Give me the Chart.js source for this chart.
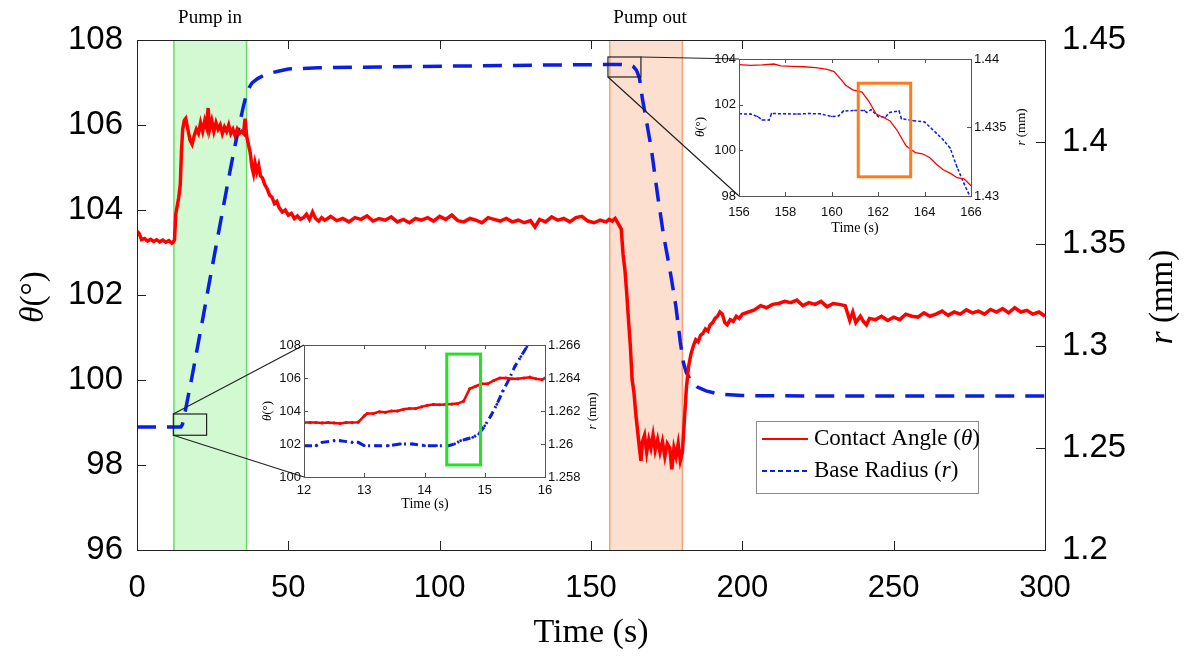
<!DOCTYPE html>
<html>
<head>
<meta charset="utf-8">
<script src="https://cdn.jsdelivr.net/npm/chart.js@4.4.1/dist/chart.umd.min.js"></script>
<style>
  body { margin: 0; background: #fff; }
  #wrap { position: relative; width: 1195px; height: 658px; overflow: hidden; }
  canvas { position: absolute; }
  #main { left: 0; top: 0; }
  #insetA { left: 250px; top: 330px; }
  #insetB { left: 690px; top: 40px; }
</style>
</head>
<body>
<div id="wrap">
  <canvas id="main" width="1195" height="658"></canvas>
  <canvas id="insetA" width="370" height="190"></canvas>
  <canvas id="insetB" width="340" height="200"></canvas>
</div>
<script>
// ---- main plot data (time in s, contact angle in deg, base radius in mm)
const angleTime = [0, 0.7, 1.5, 2.5, 3.5, 4.5, 5.5, 6.5, 7.5, 8.5, 9.5, 10.5, 11.5, 12, 12.4, 12.8, 13.3, 13.8, 14.3, 14.7, 15.1, 15.6, 16.1,
  16.8, 17.5, 18.2, 18.9, 19.6, 20.3, 21, 21.7, 22.4, 23, 23.5, 24, 24.7, 25.4, 26.1, 26.8, 27.5, 28.2, 28.9, 29.6, 30.3, 31, 31.7,
  32.4, 33.1, 33.8, 34.5, 35.2, 35.7, 36.2, 36.8, 37.4, 38, 38.5, 39, 39.6, 40.2, 40.8, 41.5, 42.2, 43, 43.8, 44.6, 45.4, 46.2, 47,
  48, 49, 50, 51, 52, 53, 54, 55, 56, 57, 58, 59, 60, 61, 62, 63,
  64, 66, 68, 70, 72, 74, 76, 78, 80, 82, 84, 86, 88, 90, 92, 94, 96, 98, 100, 102, 104, 106, 108, 110, 112, 114, 116, 118, 120,
  122, 124, 126, 128, 130, 131.5, 133, 135, 137, 139, 141, 143, 145, 147, 149, 151, 153, 155,
  156, 157, 158, 159, 160, 160.6, 161.2, 161.8, 162.4, 163, 163.6, 164.2, 164.8, 165.4, 166, 166.5, 167, 167.7, 168.4, 169.1, 169.8,
  170.5, 171.2, 172, 172.8, 173.6, 174.4, 175.2, 176, 176.7, 177.4, 178.1, 178.8, 179.5, 180.2, 180.8, 181.5, 182.2, 183, 183.8,
  184.6, 185.4, 186.2, 187, 187.8, 188.6, 189.4, 190.2, 191, 191.8, 192.6, 193.4, 194.2, 195, 196, 197, 198, 199, 200,
  202, 204, 206, 208, 210, 212, 214, 216, 218, 220, 222, 224, 226, 228, 230, 232, 234, 235.5, 236.5, 237.5, 239, 240, 241, 242,
  244, 246, 248, 250, 252, 254, 256, 258, 260, 262, 264, 266, 268, 270, 272, 274, 276, 278, 280, 282, 284, 286, 288, 290,
  292, 294, 296, 298, 300];
const angleValue = [103.5, 103.45, 103.3, 103.33, 103.27, 103.31, 103.26, 103.3, 103.25, 103.29, 103.24, 103.28, 103.22, 103.25, 103.3, 103.9, 104.1, 104.3, 104.6, 105.4, 105.9, 106.1, 106.15,
  105.9, 105.65, 105.55, 105.75, 105.9, 105.8, 106.05, 105.85, 106.1, 105.95, 106.4, 105.9, 106.1, 105.85, 106.05, 105.9, 106.0, 105.8, 105.95, 105.85, 106.0, 105.8, 105.9,
  105.75, 105.9, 105.8, 105.85, 105.8, 106.15, 105.75, 105.55, 105.35, 105.0, 104.85, 105.1, 104.9, 105.05, 104.8, 104.75, 104.6, 104.5, 104.35, 104.3, 104.15, 104.2, 104.05,
  103.95, 104.0, 103.88, 103.92, 103.8, 103.86, 103.78, 103.82, 103.9, 103.78, 103.95, 103.8, 103.74, 103.82, 103.76, 103.8,
  103.85, 103.75, 103.8, 103.72, 103.82, 103.78, 103.86, 103.74, 103.8, 103.76, 103.84, 103.72, 103.78, 103.7, 103.8, 103.76, 103.82, 103.74, 103.85, 103.78, 103.88, 103.75, 103.72, 103.8, 103.76, 103.7, 103.82, 103.78, 103.74,
  103.8, 103.72, 103.76, 103.7, 103.75, 103.6, 103.78, 103.72, 103.84, 103.76, 103.8, 103.72, 103.82, 103.85, 103.74, 103.7, 103.76, 103.72,
  103.78, 103.74, 103.8, 103.68, 103.55, 102.95, 102.6, 102.05, 101.4, 100.8, 100.0, 99.7, 99.2, 98.8, 98.4, 98.1, 98.55, 98.7, 98.3, 98.6, 98.4,
  98.7, 98.35, 98.6, 98.3, 98.55, 98.2, 98.5, 98.4, 97.9, 98.4, 98.2, 98.5, 98.1, 98.3, 99.0, 99.8, 100.3, 100.6, 100.8,
  100.95, 100.9, 101.05, 101.1, 101.2, 101.15, 101.3, 101.35, 101.45, 101.5, 101.6, 101.55, 101.35, 101.3, 101.42, 101.38, 101.5, 101.45, 101.55,
  101.6, 101.65, 101.75, 101.7, 101.78, 101.8, 101.85, 101.82, 101.88, 101.75, 101.82, 101.78, 101.85, 101.72, 101.8, 101.78, 101.75, 101.4, 101.6, 101.35, 101.5, 101.38, 101.3, 101.45,
  101.42, 101.5, 101.4, 101.48, 101.42, 101.55, 101.5, 101.48, 101.58, 101.5, 101.55, 101.62, 101.52, 101.6, 101.55, 101.65, 101.58, 101.62, 101.55, 101.66, 101.6, 101.68, 101.58, 101.7,
  101.6, 101.64, 101.55, 101.6, 101.5];

const radiusTime = [0, 12, 14.5, 15, 15.5, 16, 17, 18, 20, 22, 24, 26, 28, 30, 32, 34, 35, 36, 37, 38, 40, 42, 44, 47, 50,
  60, 80, 110, 140, 160, 163, 164, 165, 166, 167, 168, 170, 172, 174, 176, 178, 179.5, 180.5, 181.5, 183, 185, 188, 192,
  200, 220, 250, 280, 300];
const radiusValue = [1.2603, 1.2603, 1.2603, 1.2615, 1.265, 1.2685, 1.276, 1.2835, 1.2995, 1.3155, 1.332, 1.348, 1.364, 1.38, 1.3955, 1.4095, 1.4165, 1.4225, 1.4265, 1.429, 1.4312, 1.4328, 1.4338, 1.4348, 1.4358,
  1.4364, 1.4368, 1.4373, 1.4378, 1.438, 1.4378, 1.437, 1.4352, 1.4315, 1.421, 1.413, 1.396, 1.374, 1.354, 1.338, 1.32, 1.302, 1.292, 1.287, 1.283, 1.28, 1.278, 1.2765,
  1.2757, 1.2755, 1.2755, 1.2755, 1.2755];

const timeTicks = [0, 50, 100, 150, 200, 250, 300];
const angleTicks = [96, 98, 100, 102, 104, 106, 108];
const radiusTicks = [1.2, 1.25, 1.3, 1.35, 1.4, 1.45];
const pumpIn = [12.2, 36.2];
const pumpOut = [156.2, 180.2];

// ---- inset A: 12-16 s
const insetATime = [12.0, 12.1, 12.2, 12.3, 12.4, 12.5, 12.6, 12.7, 12.8, 12.9, 13.0, 13.05, 13.15, 13.25, 13.35, 13.45, 13.55, 13.65, 13.75, 13.85, 13.95,
  14.05, 14.15, 14.25, 14.35, 14.45, 14.55, 14.65, 14.75, 14.85, 14.95, 15.05, 15.15, 15.25, 15.35, 15.45, 15.55, 15.65, 15.75, 15.85, 15.95, 16.0];
const insetAAngle = [103.3, 103.3, 103.3, 103.28, 103.3, 103.28, 103.25, 103.3, 103.3, 103.32, 103.7, 103.85, 103.85, 103.95, 103.92, 104.0, 104.0, 104.1, 104.15, 104.15, 104.25,
  104.35, 104.4, 104.38, 104.4, 104.42, 104.45, 104.6, 105.35, 105.5, 105.65, 105.65, 105.85, 106.0, 106.0, 105.95, 105.95, 106.0, 106.05, 105.95, 105.9, 106.0];
const insetARTime = [12.0, 12.2, 12.3, 12.5, 12.6, 12.8, 12.9, 13.0, 13.2, 13.4, 13.6, 13.8, 14.0, 14.2, 14.4, 14.5, 14.6, 14.7, 14.8, 14.9,
  15.0, 15.1, 15.2, 15.3, 15.4, 15.5, 15.6, 15.7];
const insetARadius = [1.2599, 1.2599, 1.2601, 1.2602, 1.2602, 1.2601, 1.2601, 1.2599, 1.2599, 1.2599, 1.26, 1.26, 1.2599, 1.2599, 1.2599, 1.26, 1.2602, 1.2603, 1.2604, 1.2606,
  1.2611, 1.2617, 1.2624, 1.2632, 1.2639, 1.2647, 1.2653, 1.2659];
const insetATimeTicks = [12, 13, 14, 15, 16];
const insetAAngleTicks = [100, 102, 104, 106, 108];
const insetARadiusTicks = [1.258, 1.26, 1.262, 1.264, 1.266];
const insetAHighlight = { t: [14.37, 14.93], angle: [100.73, 107.45] };

// ---- inset B: 156-166 s
const insetBTime = [156, 156.5, 157, 157.5, 157.8, 158.3, 158.8, 159.3, 159.8, 160.1, 160.4, 160.6, 160.9, 161.3, 161.6, 161.9, 162.2, 162.5, 162.8,
  163.2, 163.4, 163.6, 163.9, 164.2, 164.5, 164.8, 165.1, 165.4, 165.7, 166];
const insetBAngle = [103.75, 103.72, 103.74, 103.78, 103.7, 103.68, 103.66, 103.62, 103.55, 103.45, 103.1, 102.85, 102.65, 102.55, 102.15, 101.6, 101.45, 101.3, 100.9,
  100.2, 100.05, 99.9, 99.85, 99.7, 99.4, 99.15, 99.0, 98.8, 98.75, 98.45];
const insetBRTime = [156, 156.5, 156.8, 157.0, 157.3, 157.4, 158, 158.5, 159, 159.5, 160, 160.3, 160.5, 161, 161.4, 161.5, 161.7, 162.0, 162.3, 162.5,
  162.9, 163.0, 163.5, 164, 164.5, 164.8, 165.1, 165.4, 165.7, 166];
const insetBRadius = [1.436, 1.43598, 1.4358, 1.43555, 1.43555, 1.43602, 1.436, 1.43598, 1.43602, 1.436, 1.4358, 1.43585, 1.4362, 1.43625, 1.43625, 1.4361, 1.4363, 1.4358, 1.43575, 1.4361,
  1.4362, 1.43565, 1.4355, 1.4354, 1.4346, 1.4341, 1.4335, 1.4321, 1.4309, 1.4298];
const insetBTimeTicks = [156, 158, 160, 162, 164, 166];
const insetBAngleTicks = [98, 100, 102, 104];
const insetBRadiusTicks = [1.43, 1.435, 1.44];
const insetBHighlight = { t: [161.14, 163.4], angle: [98.84, 102.94] };

// source boxes drawn on the main plot (time, angle)
const zoomBoxA = { t: [12, 23], angle: [98.7, 99.2] };
const zoomBoxB = { t: [155.6, 166.5], angle: [107.13, 107.6] };

const SANS = '"Liberation Sans", Arial, sans-serif';
const SERIF = '"Liberation Serif", "Times New Roman", serif';
const RED = '#ff0000';
const BLUE = '#0b1fe0';

const pts = (ts, vs) => ts.map((t, i) => ({ x: t, y: vs[i] }));
const fixedTicks = (list) => (scale) => { scale.ticks = list.map(v => ({ value: v })); };
const trimNum = (v) => String(parseFloat(v.toFixed(3)));

function drawRich(ctx, parts, x, y, size) {
  const widths = parts.map(p => {
    ctx.font = (p[1] ? 'italic ' : '') + size + 'px ' + SERIF;
    return ctx.measureText(p[0]).width;
  });
  let cx = x - widths.reduce((a, b) => a + b, 0) / 2;
  parts.forEach((p, i) => {
    ctx.font = (p[1] ? 'italic ' : '') + size + 'px ' + SERIF;
    ctx.fillText(p[0], cx, y);
    cx += widths[i];
  });
}

// box around the plot and ticks pointing inwards (matlab style)
const frame = {
  id: 'frame',
  beforeDraw(chart, args, opts) {
    if (!opts.fill) return;
    const a = chart.chartArea;
    chart.ctx.save();
    chart.ctx.fillStyle = opts.fill;
    chart.ctx.fillRect(a.left, a.top, a.right - a.left, a.bottom - a.top);
    chart.ctx.restore();
  },
  afterDraw(chart, args, opts) {
    const { ctx, chartArea: a, scales } = chart;
    const len = opts.tickLength || 8;
    ctx.save();
    ctx.strokeStyle = opts.color || '#222';
    ctx.lineWidth = 1;
    ctx.beginPath();
    scales.x.ticks.forEach(t => {
      const px = Math.round(scales.x.getPixelForValue(t.value)) + 0.5;
      ctx.moveTo(px, a.bottom); ctx.lineTo(px, a.bottom - len);
      ctx.moveTo(px, a.top); ctx.lineTo(px, a.top + len);
    });
    scales.y.ticks.forEach(t => {
      const py = Math.round(scales.y.getPixelForValue(t.value)) + 0.5;
      ctx.moveTo(a.left, py); ctx.lineTo(a.left + len, py);
    });
    scales.y1.ticks.forEach(t => {
      const py = Math.round(scales.y1.getPixelForValue(t.value)) + 0.5;
      ctx.moveTo(a.right, py); ctx.lineTo(a.right - len, py);
    });
    ctx.stroke();
    ctx.strokeRect(Math.round(a.left) + 0.5, Math.round(a.top) + 0.5, Math.round(a.right - a.left), Math.round(a.bottom - a.top));
    ctx.restore();
  }
};

// axis titles and free labels with mixed italic parts
const labels = {
  id: 'labels',
  afterDraw(chart, args, opts) {
    const ctx = chart.ctx;
    ctx.save();
    ctx.fillStyle = '#000';
    ctx.textBaseline = 'middle';
    (opts.items || []).forEach(it => {
      ctx.save();
      ctx.translate(it.x, it.y);
      if (it.rotate) ctx.rotate(-Math.PI / 2);
      drawRich(ctx, it.parts, 0, 0, it.size);
      ctx.restore();
    });
    ctx.restore();
  }
};

// highlight rectangle inside an inset
const highlight = {
  id: 'highlight',
  afterDatasetsDraw(chart, args, opts) {
    if (!opts.box) return;
    const { ctx, scales: { x, y } } = chart;
    const x0 = x.getPixelForValue(opts.box.t[0]), x1 = x.getPixelForValue(opts.box.t[1]);
    const y0 = y.getPixelForValue(opts.box.angle[1]), y1 = y.getPixelForValue(opts.box.angle[0]);
    ctx.save();
    ctx.strokeStyle = opts.color;
    ctx.lineWidth = 3;
    ctx.strokeRect(x0, y0, x1 - x0, y1 - y0);
    ctx.restore();
  }
};

function insetConfig(o) {
  return {
    type: 'line',
    data: { datasets: o.datasets },
    options: {
      responsive: false, animation: false, devicePixelRatio: 1,
      layout: { padding: { top: o.top, left: 0, right: 0, bottom: 0 } },
      elements: { line: { tension: 0 } },
      plugins: {
        legend: { display: false }, tooltip: { enabled: false },
        frame: { fill: '#fff', color: '#555', tickLength: 4 },
        labels: { items: o.titles },
        highlight: { box: o.box, color: o.boxColor }
      },
      scales: {
        x: {
          type: 'linear', min: o.xr[0], max: o.xr[1], afterBuildTicks: fixedTicks(o.xt),
          afterFit(s) { s.height = o.xh; },
          grid: { display: false, drawTicks: false }, border: { display: false },
          ticks: { padding: o.xpad, color: '#111', font: { family: SANS, size: 13 }, maxRotation: 0, autoSkip: false }
        },
        y: {
          position: 'left', min: o.yr[0], max: o.yr[1], afterBuildTicks: fixedTicks(o.yt),
          afterFit(s) { s.width = o.lw; },
          grid: { display: false, drawTicks: false }, border: { display: false },
          ticks: { padding: 3, color: '#111', font: { family: SANS, size: 13 }, autoSkip: false }
        },
        y1: {
          position: 'right', min: o.rr[0], max: o.rr[1], afterBuildTicks: fixedTicks(o.rt),
          afterFit(s) { s.width = o.rw; },
          grid: { display: false, drawTicks: false }, border: { display: false },
          ticks: { padding: 3, color: '#111', font: { family: SANS, size: 13 }, autoSkip: false, callback: trimNum }
        }
      }
    },
    plugins: [frame, labels, highlight]
  };
}

const insetAPos = { left: 250, top: 330 };
const insetBPos = { left: 690, top: 40 };

const insetA = new Chart(document.getElementById('insetA'), insetConfig({
  top: 15, xh: 43, lw: 54, rw: 75, xpad: 6,
  xr: [12, 16], yr: [100, 108], rr: [1.258, 1.266],
  xt: insetATimeTicks, yt: insetAAngleTicks, rt: insetARadiusTicks,
  box: insetAHighlight, boxColor: '#22e222',
  titles: [
    { parts: [['θ', true], ['(°)', false]], x: 18, y: 81, size: 13, rotate: true },
    { parts: [['r', true], [' (mm)', false]], x: 343, y: 81, size: 13, rotate: true },
    { parts: [['Time (s)', false]], x: 175, y: 174, size: 14 }
  ],
  datasets: [
    { data: pts(insetATime, insetAAngle), yAxisID: 'y', borderColor: RED, backgroundColor: RED, borderWidth: 2.5, pointRadius: 1.6, pointBorderWidth: 0 },
    { data: pts(insetARTime, insetARadius), yAxisID: 'y1', borderColor: BLUE, backgroundColor: BLUE, borderWidth: 3, borderDash: [8, 4, 2, 4], pointRadius: 1.4, pointBorderWidth: 0 }
  ]
}));

const insetB = new Chart(document.getElementById('insetB'), insetConfig({
  top: 19, xh: 44, lw: 49, rw: 59, xpad: 9,
  xr: [156, 166], yr: [98, 104], rr: [1.43, 1.44],
  xt: insetBTimeTicks, yt: insetBAngleTicks, rt: insetBRadiusTicks,
  box: insetBHighlight, boxColor: '#ff7a1a',
  titles: [
    { parts: [['θ', true], ['(°)', false]], x: 11, y: 87, size: 13, rotate: true },
    { parts: [['r', true], [' (mm)', false]], x: 332, y: 87, size: 13, rotate: true },
    { parts: [['Time (s)', false]], x: 165, y: 188, size: 14 }
  ],
  datasets: [
    { data: pts(insetBTime, insetBAngle), yAxisID: 'y', borderColor: RED, borderWidth: 1.3, pointRadius: 0 },
    { data: pts(insetBRTime, insetBRadius), yAxisID: 'y1', borderColor: BLUE, backgroundColor: BLUE, borderWidth: 1.5, borderDash: [3, 2], pointRadius: 0.8, pointBorderWidth: 0 }
  ]
}));

// shaded pump windows behind the data
const bands = {
  id: 'bands',
  beforeDatasetsDraw(chart) {
    const { ctx, chartArea: a, scales: { x } } = chart;
    const band = (win, fill, edge) => {
      const x0 = x.getPixelForValue(win[0]), x1 = x.getPixelForValue(win[1]);
      ctx.fillStyle = fill;
      ctx.fillRect(x0, a.top, x1 - x0, a.bottom - a.top);
      ctx.strokeStyle = edge;
      ctx.lineWidth = 1.5;
      ctx.beginPath();
      ctx.moveTo(x0, a.top); ctx.lineTo(x0, a.bottom);
      ctx.moveTo(x1, a.top); ctx.lineTo(x1, a.bottom);
      ctx.stroke();
    };
    ctx.save();
    band(pumpIn, '#d3f9d3', '#5fe35f');
    band(pumpOut, '#fcdfce', '#f4a27c');
    ctx.restore();
  }
};

// zoom boxes, connector lines to the insets and the legend
const overlay = {
  id: 'overlay',
  afterDatasetsDraw(chart) {
    const { ctx, scales: { x, y } } = chart;
    ctx.save();
    ctx.strokeStyle = '#222';
    ctx.lineWidth = 1.2;
    const boxPx = (b) => ({
      l: x.getPixelForValue(b.t[0]), r: x.getPixelForValue(b.t[1]),
      t: y.getPixelForValue(b.angle[1]), b: y.getPixelForValue(b.angle[0])
    });
    const A = boxPx(zoomBoxA), B = boxPx(zoomBoxB);
    ctx.strokeRect(A.l, A.t, A.r - A.l, A.b - A.t);
    ctx.strokeRect(B.l, B.t, B.r - B.l, B.b - B.t);
    const ia = insetA.chartArea, ib = insetB.chartArea;
    ctx.beginPath();
    ctx.moveTo(A.l, A.t); ctx.lineTo(insetAPos.left + ia.left, insetAPos.top + ia.top);
    ctx.moveTo(A.l, A.b); ctx.lineTo(insetAPos.left + ia.left, insetAPos.top + ia.bottom);
    ctx.moveTo(B.r, B.t); ctx.lineTo(insetBPos.left + ib.left, insetBPos.top + ib.top);
    ctx.moveTo(B.l, B.b); ctx.lineTo(insetBPos.left + ib.left, insetBPos.top + ib.bottom);
    ctx.stroke();

    // legend
    ctx.fillStyle = '#fff';
    ctx.fillRect(756, 421, 222, 72);
    ctx.strokeStyle = '#8a8a8a';
    ctx.lineWidth = 1;
    ctx.strokeRect(756.5, 421.5, 222, 72);
    ctx.lineWidth = 2;
    ctx.strokeStyle = RED;
    ctx.beginPath(); ctx.moveTo(762, 439); ctx.lineTo(808, 439); ctx.stroke();
    ctx.strokeStyle = BLUE;
    ctx.setLineDash([5, 3]);
    ctx.beginPath(); ctx.moveTo(762, 471); ctx.lineTo(808, 471); ctx.stroke();
    ctx.setLineDash([]);
    ctx.fillStyle = '#000';
    ctx.textBaseline = 'middle';
    const leftText = (parts, x0, y0) => {
      let cx = x0;
      parts.forEach(p => {
        ctx.font = (p[1] ? 'italic ' : '') + '23px ' + SERIF;
        ctx.fillText(p[0], cx, y0);
        cx += ctx.measureText(p[0]).width;
      });
    };
    leftText([['Contact Angle (', false], ['θ', true], [')', false]], 814, 439);
    leftText([['Base Radius (', false], ['r', true], [')', false]], 814, 471);
    ctx.restore();
  }
};

new Chart(document.getElementById('main'), {
  type: 'line',
  data: {
    datasets: [
      { label: 'Contact Angle (θ)', data: pts(angleTime, angleValue), yAxisID: 'y', borderColor: RED, borderWidth: 3.5, pointRadius: 0 },
      { label: 'Base Radius (r)', data: pts(radiusTime, radiusValue), yAxisID: 'y1', borderColor: BLUE, borderWidth: 3.5, borderDash: [19, 11], pointRadius: 0 }
    ]
  },
  options: {
    responsive: false, animation: false, devicePixelRatio: 1,
    layout: { padding: { top: 40, left: 0, right: 0, bottom: 0 } },
    elements: { line: { tension: 0 } },
    plugins: {
      legend: { display: false }, tooltip: { enabled: false },
      frame: { color: '#222', tickLength: 9 },
      labels: {
        items: [
          { parts: [['θ', true], ['(°)', false]], x: 34, y: 297, size: 33, rotate: true },
          { parts: [['r', true], [' (mm)', false]], x: 1163, y: 297, size: 33, rotate: true },
          { parts: [['Time (s)', false]], x: 591, y: 633, size: 34 },
          { parts: [['Pump in', false]], x: 210, y: 18, size: 19 },
          { parts: [['Pump out', false]], x: 650, y: 18, size: 19 }
        ]
      }
    },
    scales: {
      x: {
        type: 'linear', min: 0, max: 300, afterBuildTicks: fixedTicks(timeTicks),
        afterFit(s) { s.height = 108; },
        grid: { display: false, drawTicks: false }, border: { display: false },
        ticks: { padding: 20, color: '#000', font: { family: SANS, size: 31 }, maxRotation: 0, autoSkip: false }
      },
      y: {
        position: 'left', min: 96, max: 108, afterBuildTicks: fixedTicks(angleTicks),
        afterFit(s) { s.width = 137; },
        grid: { display: false, drawTicks: false }, border: { display: false },
        ticks: { padding: 14, color: '#000', font: { family: SANS, size: 33 }, autoSkip: false }
      },
      y1: {
        position: 'right', min: 1.2, max: 1.45, afterBuildTicks: fixedTicks(radiusTicks),
        afterFit(s) { s.width = 150; },
        grid: { display: false, drawTicks: false }, border: { display: false },
        ticks: { padding: 17, color: '#000', font: { family: SANS, size: 33 }, autoSkip: false, callback: trimNum }
      }
    }
  },
  plugins: [bands, frame, overlay, labels]
});
</script>
</body>
</html>
